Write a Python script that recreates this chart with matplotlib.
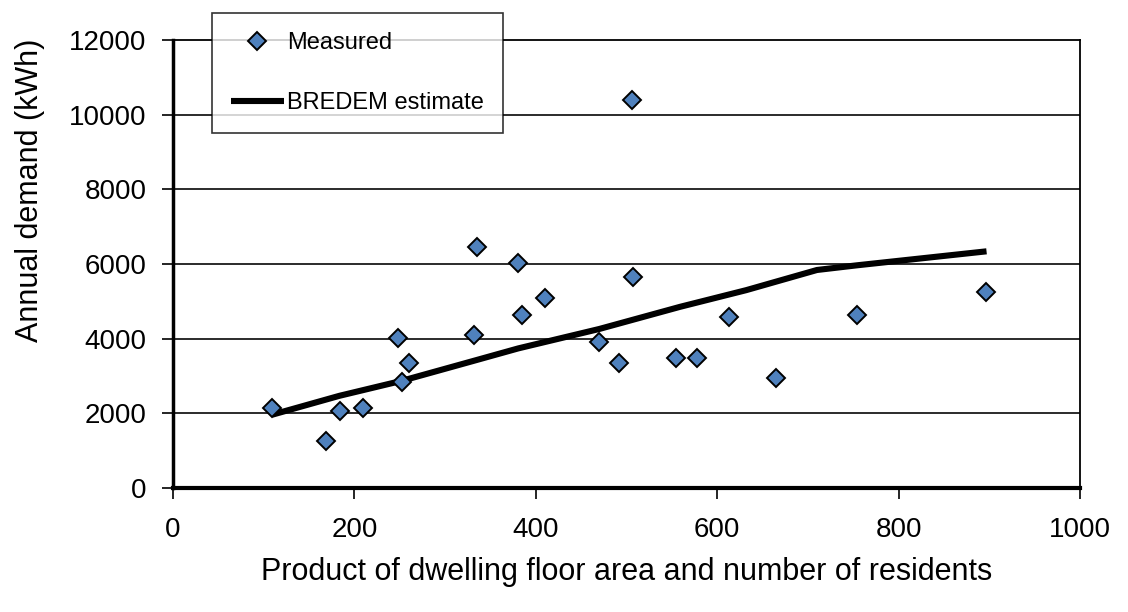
import numpy as np
import matplotlib
matplotlib.use('Agg')
import matplotlib.pyplot as plt

plt.rcParams['font.family'] = ['Liberation Sans', 'DejaVu Sans']

# Measured points (product of floor area and residents, annual demand kWh)
measured_x = [108.8, 168.7, 184, 209.8, 248.4, 252, 260.5, 332, 334.8, 380.7,
              384.5, 410, 470, 491.7, 507, 554.5, 577.5, 613, 506, 664.5,
              754.5, 896]
measured_y = [2140, 1255, 2070, 2130, 4008, 2835, 3350, 4105, 6453, 6018,
              4635, 5102, 3920, 3342, 5662, 3475, 3493, 4580, 10400, 2952,
              4640, 5240]

# BREDEM estimate line
bredem_x = [108.8, 183.5, 252, 332, 380.7, 470, 559, 632, 710, 754, 897]
bredem_y = [1960, 2470, 2870, 3410, 3740, 4260, 4853, 5300, 5840, 5965, 6340]

y_ticks = [0, 2000, 4000, 6000, 8000, 10000, 12000]
x_ticks = [0, 200, 400, 600, 800, 1000]

fig = plt.figure(figsize=(11.28, 6.12), dpi=100)
ax = fig.add_axes([0.1534, 0.2026, 0.804, 0.732])

for yv in y_ticks[1:-1]:
    ax.axhline(yv, color='#1a1a1a', lw=1.3, zorder=1)

line, = ax.plot(bredem_x, bredem_y, color='black', lw=4.4, zorder=2,
                solid_capstyle='butt', label='BREDEM estimate')
pts, = ax.plot(measured_x, measured_y, linestyle='none', marker='D',
               markersize=9, markerfacecolor='#4F81BD', markeredgecolor='black',
               markeredgewidth=1.4, zorder=3, label='Measured')

ax.set_xlim(0, 1000)
ax.set_ylim(0, 12000)
ax.set_xticks(x_ticks)
ax.set_yticks(y_ticks)
ax.tick_params(axis='both', direction='out', length=8, width=1.2,
               labelsize=20, color='black')
ax.tick_params(axis='y', pad=11)
ax.tick_params(axis='x', pad=13)

ax.spines['left'].set_linewidth(2.5)
ax.spines['bottom'].set_linewidth(3)
ax.spines['top'].set_linewidth(1.3)
ax.spines['right'].set_linewidth(1.3)

fig.text(30 / 1128, 1 - 190 / 612, 'Annual demand (kWh)', rotation=90,
         ha='center', va='center', fontsize=22)
ax.set_xlabel('Product of dwelling floor area and number of residents',
              fontsize=22, labelpad=10)

leg = fig.legend(handles=[pts, line], loc='upper left',
                 bbox_to_anchor=(0.1877, 0.978), fontsize=17,
                 frameon=True, fancybox=False, shadow=False,
                 borderpad=0.8, labelspacing=1.6, handlelength=2.25,
                 handletextpad=0.15, borderaxespad=0)
leg.get_frame().set_edgecolor('black')
leg.get_frame().set_linewidth(1.2)
leg.set_zorder(10)

fig.savefig('out.png', dpi=100)
